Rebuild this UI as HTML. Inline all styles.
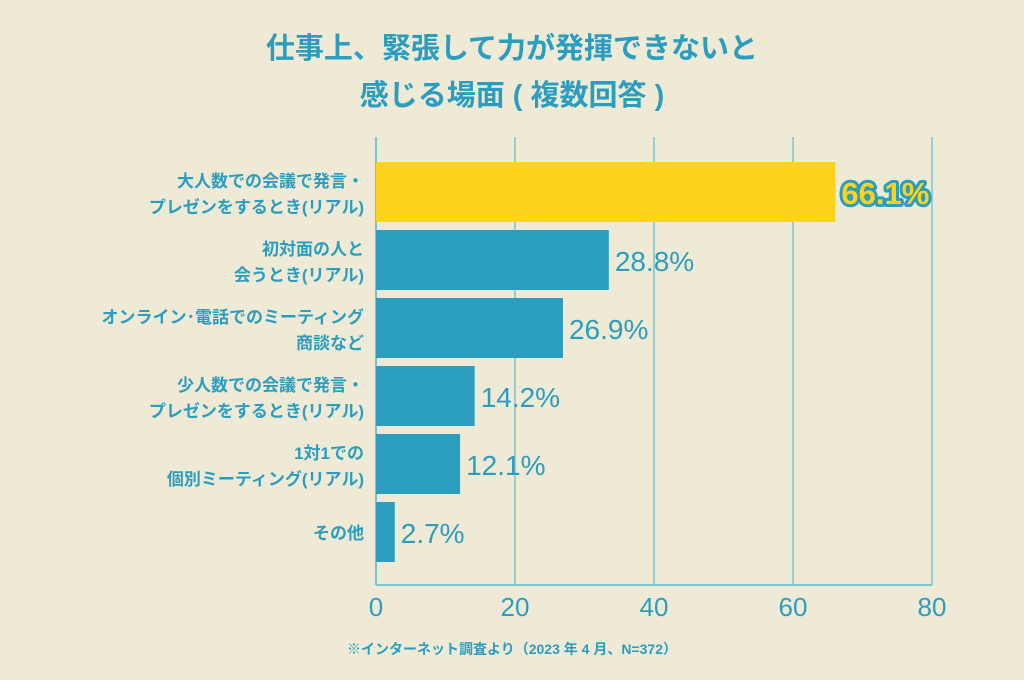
<!DOCTYPE html>
<html><head><meta charset="utf-8"><style>
body{margin:0;background:#efead6;}
svg{display:block;font-family:"Liberation Sans","Noto Sans CJK JP",sans-serif;}
</style></head><body>
<svg id="chart" width="1024" height="680" viewBox="0 0 1024 680">
<rect width="1024" height="680" fill="#efead6"/>
<text x="512" y="58" text-anchor="middle" font-size="29" font-weight="bold" fill="#2b9ebf">仕事上、緊張して力が発揮できないと</text>
<text x="512" y="105" text-anchor="middle" font-size="29" font-weight="bold" fill="#2b9ebf">感じる場面 ( 複数回答 )</text>
<g id="grid"></g><g id="bars"></g><g id="labels"></g><g id="ticks"></g>
<text x="512" y="654" text-anchor="middle" font-size="14" font-weight="bold" fill="#2b9ebf">※インターネット調査より（2023 年 4 月、N=372）</text>
</svg>
<script>
const categories = [["大人数での会議で発言・","プレゼンをするとき(リアル)"],["初対面の人と","会うとき(リアル)"],["オンライン･電話でのミーティング","商談など"],["少人数での会議で発言・","プレゼンをするとき(リアル)"],["1対1での","個別ミーティング(リアル)"],["その他"]];
const values = [66.1, 28.8, 26.9, 14.2, 12.1, 2.7];
const barLengths = [66.1, 33.5, 26.9, 14.2, 12.1, 2.7];
const tickValues = [0, 20, 40, 60, 80];
const NS="http://www.w3.org/2000/svg";
const x0=376,x1=932,yTop=137,yBottom=585;
const xs=v=>x0+(v/80)*(x1-x0);
const yb=i=>162+i*68;
function mk(tag,attrs,parent,text){const e=document.createElementNS(NS,tag);for(const k in attrs)e.setAttribute(k,attrs[k]);if(text!==undefined)e.textContent=text;parent.appendChild(e);return e;}
const grid=document.getElementById('grid'),bars=document.getElementById('bars'),labels=document.getElementById('labels'),ticks=document.getElementById('ticks');
tickValues.forEach(t=>{
  const l=mk('line',{x1:xs(t),x2:xs(t),y1:yTop,y2:yBottom,stroke:'#7cc3d4',"stroke-width":t===0?2:1.5},grid);
  
  
  const tx=mk('text',{x:xs(t),y:616,"text-anchor":"middle","font-size":26,fill:"#2b9ebf"},ticks,String(t));
  
  
});
const ax=mk('line',{x1:x0,x2:x1,y1:yBottom,y2:yBottom,stroke:'#7cc3d4',"stroke-width":2},grid);


values.forEach((v,i)=>{
  const y=yb(i);
  const r=mk('rect',{x:x0,y:y,width:xs(barLengths[i])-x0,height:60,fill:i===0?'#fdd31d':'#2b9ebf'},bars);
  
  
  const vx=xs(barLengths[i])+6;
  if(i===0){
    const o=mk('text',{x:vx,y:y+42,"font-size":31,"font-weight":"bold",fill:"#fdd31d",stroke:"#2b9ebf","stroke-width":6,"paint-order":"stroke","stroke-linejoin":"round"},labels,v.toFixed(1)+'%');
    
    
  } else {
    const o=mk('text',{x:vx,y:y+41,"font-size":28,fill:"#2b9ebf"},labels,v.toFixed(1)+'%');
    
    
  }
  const c=categories[i];
  c.forEach((line,j)=>{
    const ty=c.length===2?y+25+j*26:y+37;
    const t=mk('text',{x:364,y:ty,"text-anchor":"end","font-size":17,"font-weight":"bold",fill:"#2b9ebf"},labels,line);
    
    
  });
});
</script>
</body></html>
